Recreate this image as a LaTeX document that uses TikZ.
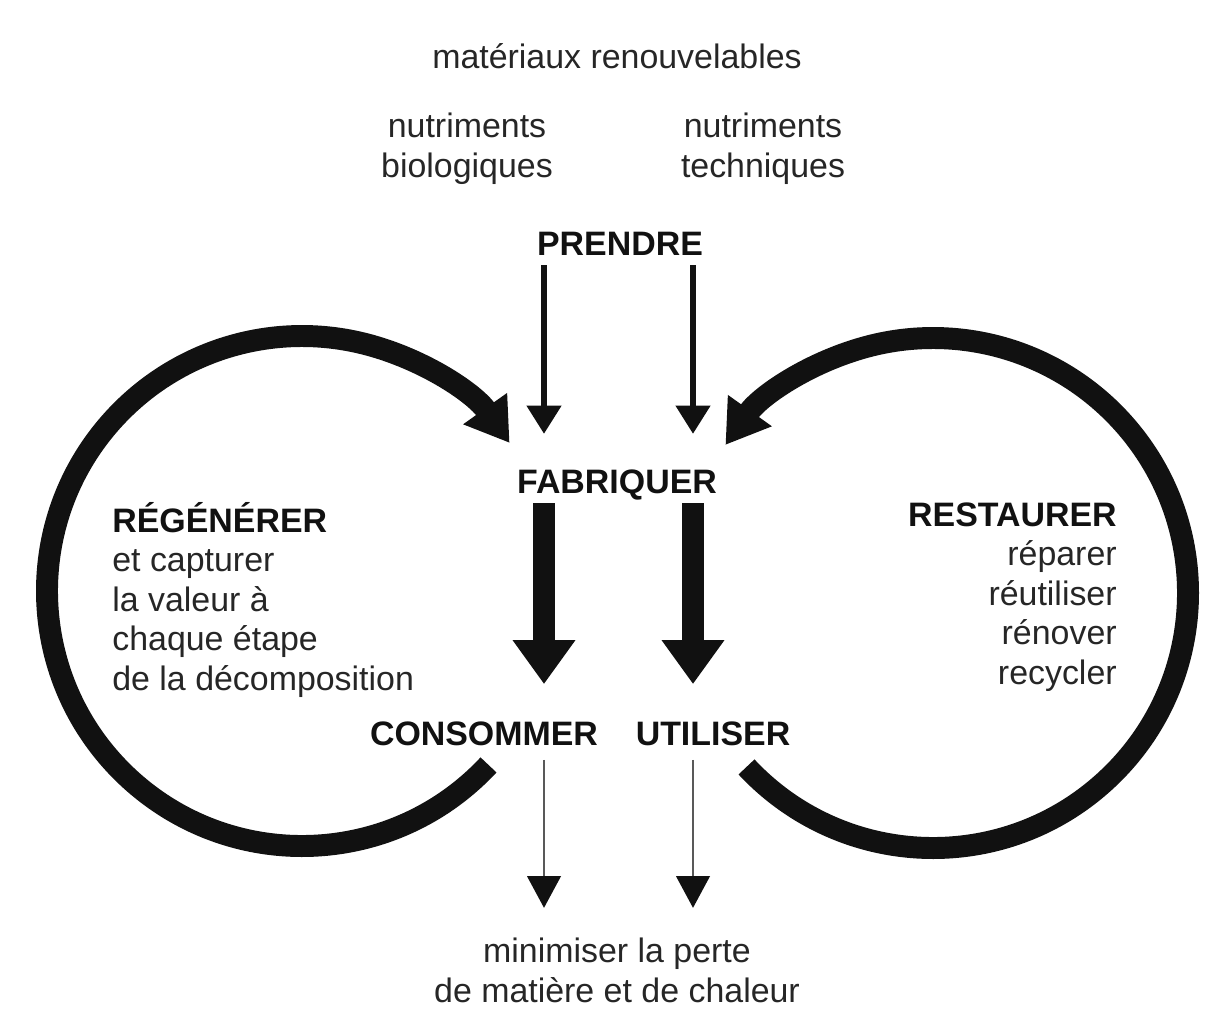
\documentclass[tikz,border=0pt]{standalone}
\usepackage{fontspec}
\setmainfont{Liberation Sans}
\usepackage{tikz}
\usetikzlibrary{arrows.meta}

\definecolor{ink}{HTML}{111111}
\definecolor{txtgray}{HTML}{262626}

\begin{document}
\begin{tikzpicture}[x=0.02cm,y=0.02cm,
every node/.style={inner sep=0pt,text=txtgray,font=\fontsize{19.3}{22.4}\selectfont},
verb/.style={text=ink,font=\fontsize{19.3}{22.4}\selectfont\bfseries},
note/.style={align=center},
feed/.style={draw=ink,line width=3.4pt,-{Triangle[length=16pt,width=19pt]}},
flow/.style={draw=ink,line width=13pt,-{Triangle[length=25pt,width=34pt]}},
loss/.style={draw=black!65,line width=1.4pt,-{Triangle[length=18pt,width=19pt,color=ink]}},
loopback/.style={draw=ink,line width=12.5pt,-{Triangle[length=24pt,width=29pt]}}
]
\useasboundingbox (0,0) rectangle (1212,-1025);

\node[anchor=base] (mater) at (617,-68) {matériaux renouvelables};
\node[note,anchor=base] (bio) at (467,-177) {nutriments\\biologiques};
\node[note,anchor=base] (tech) at (763,-177) {nutriments\\techniques};
\node[verb,anchor=base] (prendre) at (620,-255) {PRENDRE};
\node[verb,anchor=base] (fabriquer) at (617,-493) {FABRIQUER};
\node[verb,anchor=base] (consommer) at (484,-745) {CONSOMMER};
\node[verb,anchor=base] (utiliser) at (713,-745) {UTILISER};
\node[note,anchor=base] (perte) at (617,-1002) {minimiser la perte\\de matière et de chaleur};
\node[align=left,anchor=base west] (regenerer) at (112,-690)
  {\textbf{\color{ink}RÉGÉNÉRER}\\et capturer\\la valeur à\\chaque étape\\de la décomposition};
\node[align=right,anchor=base east] (restaurer) at (1117,-684)
  {\textbf{\color{ink}RESTAURER}\\réparer\\réutiliser\\rénover\\recycler};

\coordinate (colB) at (544,0);
\coordinate (colT) at (693,0);
\coordinate (regen) at (302,-591);
\coordinate (restor) at (933,-593);

\draw[feed,shorten <=5.7pt,shorten >=20pt] (prendre.base -| colB) -- (fabriquer.north -| colB);
\draw[feed,shorten <=5.7pt,shorten >=20pt] (prendre.base -| colT) -- (fabriquer.north -| colT);
\draw[flow,shorten <=5.7pt,shorten >=21pt] (fabriquer.base -| colB) -- (consommer.north -| colB);
\draw[flow,shorten <=5.7pt,shorten >=21pt] (fabriquer.base -| colT) -- (utiliser.north -| colT);
\draw[loss,shorten <=8.5pt,shorten >=17pt] (consommer.base -| colB) -- (perte.north -| colB);
\draw[loss,shorten <=8.5pt,shorten >=17pt] (utiliser.base -| colT) -- (perte.north -| colT);

\draw[loopback] ([shift={(-43:255)}]regen) arc[start angle=-43,end angle=-324.5,radius=255];
\draw[loopback] ([shift={(223:255)}]restor) arc[start angle=223,end angle=504.5,radius=255];
\end{tikzpicture}
\end{document}
